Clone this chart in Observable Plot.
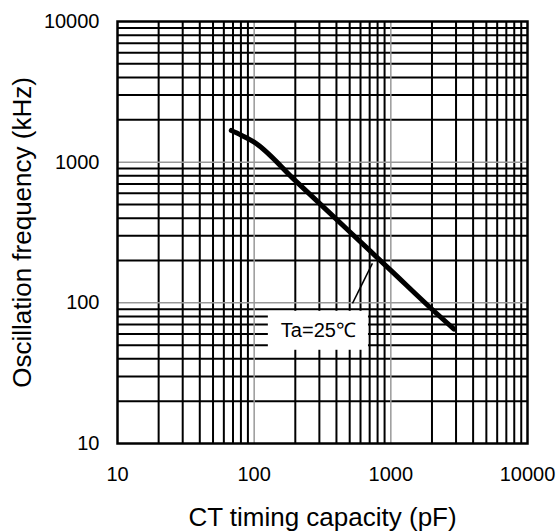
<!DOCTYPE html>
<html>
<head>
<meta charset="utf-8">
<script src="https://cdn.jsdelivr.net/npm/d3@7"></script>
<script src="https://cdn.jsdelivr.net/npm/@observablehq/plot@0.6"></script>
<style>
  html, body { margin: 0; padding: 0; background: #fff; }
  #chart { width: 556px; height: 531px; }
</style>
</head>
<body>
<div id="chart"></div>
<script>
// Axis ticks (labelled decades)
const xTicks = [10, 100, 1000, 10000];
const yTicks = [10, 100, 1000, 10000];
// Gridlines
const gridMajor = [100, 1000];
const gridMinor = [20, 30, 40, 50, 60, 70, 80, 90,
                   200, 300, 400, 500, 600, 700, 800, 900,
                   2000, 3000, 4000, 5000, 6000, 7000, 8000, 9000];
// Curve: CT timing capacity (pF) vs oscillation frequency (kHz)
const capacity = [68, 80, 100, 200, 500, 1000, 2000, 2900];
const frequency = [1680, 1560, 1390, 740, 320, 170, 90, 65];
// Annotation
const labelText = ["Ta=25℃"];
const labelPos = [295, 64];
const labelBox = [127, 686, 46, 87];       // x1, x2, y1, y2
const leader = [524, 99, 733, 191];        // x1, y1, x2, y2

const curve = capacity.map((c, i) => ({c, f: frequency[i]}));

const plot = Plot.plot({
  width: 556,
  height: 531,
  marginTop: 21,
  marginRight: 29,
  marginBottom: 88,
  marginLeft: 117,
  style: {fontFamily: "'Liberation Sans', Arial, sans-serif", color: "black", background: "white"},
  x: {type: "log", domain: [10, 10000]},
  y: {type: "log", domain: [10, 10000]},
  marks: [
    Plot.ruleX(gridMinor, {stroke: "black", strokeWidth: 2}),
    Plot.ruleY(gridMinor, {stroke: "black", strokeWidth: 2}),
    Plot.ruleX(gridMajor, {stroke: "#999", strokeWidth: 1.5}),
    Plot.ruleY(gridMajor, {stroke: "#999", strokeWidth: 1.5}),
    Plot.rect([labelBox], {x1: d => d[0], x2: d => d[1], y1: d => d[2], y2: d => d[3], fill: "white"}),
    Plot.line(curve, {x: "c", y: "f", stroke: "black", strokeWidth: 5, curve: "monotone-x", strokeLinecap: "round"}),
    Plot.link([leader], {x1: d => d[0], y1: d => d[1], x2: d => d[2], y2: d => d[3], stroke: "black", strokeWidth: 1.5}),
    Plot.text(labelText, {x: () => labelPos[0], y: () => labelPos[1], text: d => d, fontSize: 20, fill: "black"}),
    Plot.frame({stroke: "black", strokeWidth: 2.5}),
    Plot.axisX(xTicks, {tickSize: 0, tickPadding: 23, fontSize: 20, tickFormat: d => String(d), label: null}),
    Plot.axisY(yTicks, {tickSize: 0, tickPadding: 18, fontSize: 20, tickFormat: d => String(d), label: null}),
    Plot.text(["CT timing capacity (pF)"], {frameAnchor: "bottom", dy: 82, fontSize: 26, fill: "black"}),
    Plot.text(["Oscillation frequency (kHz)"], {frameAnchor: "left", textAnchor: "middle", dx: -95, rotate: -90, fontSize: 26, fill: "black"})
  ]
});
document.getElementById("chart").appendChild(plot);
</script>
</body>
</html>
